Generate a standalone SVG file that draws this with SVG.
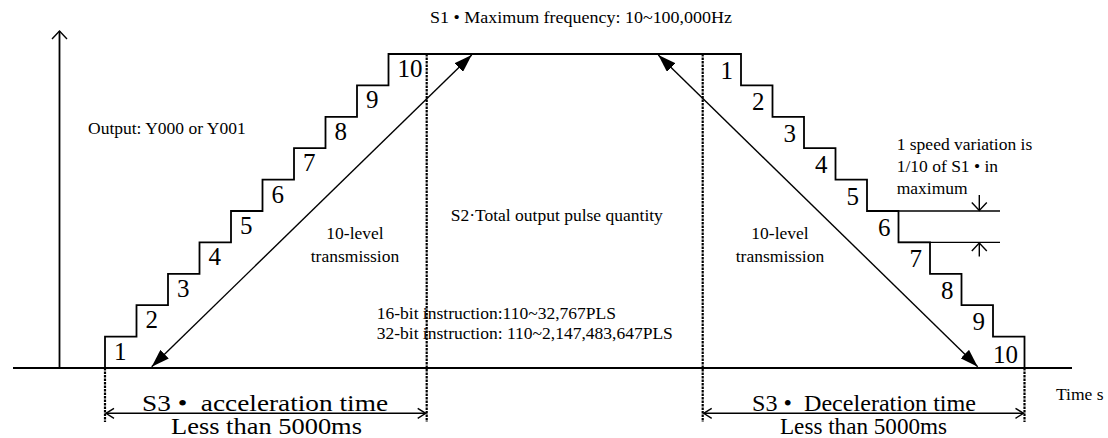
<svg xmlns="http://www.w3.org/2000/svg" width="1108" height="438" viewBox="0 0 1108 438">
<style>
.ln{fill:none;stroke:#000;stroke-width:1.8}
.thin{fill:none;stroke:#000;stroke-width:1.4}
.dash{fill:none;stroke:#000;stroke-width:2.2;stroke-dasharray:2.5 1}
.t{font-family:"Liberation Serif","Times New Roman",serif;font-size:17.5px;fill:#000}
.n{font-family:"Liberation Serif","Times New Roman",serif;font-size:25px;fill:#000}
.b{font-family:"Liberation Serif","Times New Roman",serif;font-size:23px;fill:#000}
</style>
<defs>
<marker id="fa" viewBox="0 0 18 12" refX="18" refY="6" markerWidth="18" markerHeight="12" markerUnits="userSpaceOnUse" orient="auto-start-reverse">
<path d="M0,0 L18,6 L0,12 z" fill="#000"/>
</marker>
<marker id="ch" viewBox="-1 -1 10 12" refX="8" refY="5" markerWidth="10" markerHeight="12" markerUnits="userSpaceOnUse" orient="auto-start-reverse" overflow="visible">
<path d="M0,0 L8,5 L0,10" fill="none" stroke="#000" stroke-width="1.4"/>
</marker>
<marker id="chl" viewBox="-1 -1 10 17" refX="8" refY="7.5" markerWidth="10" markerHeight="17" markerUnits="userSpaceOnUse" orient="auto-start-reverse" overflow="visible">
<path d="M0,0 L8,7.5 L0,15" fill="none" stroke="#000" stroke-width="1.4"/>
</marker>
</defs>

<g id="axes">
<line class="ln" x1="59.5" y1="368" x2="59.5" y2="31" marker-end="url(#chl)"/>
<line class="ln" x1="13" y1="368" x2="1072" y2="368"/>
</g>

<g id="profile">
<path class="ln" d="M105,368 V336.6 H136.5 V305.2 H168 V273.8 H199.5 V242.4 H231 V211 H262.5 V179.6 H294 V148.2 H325.5 V116.8 H357 V85.4 H388.5 V54 H741 V85.4 H772.5 V116.8 H804 V148.2 H835.5 V179.6 H867 V211 H898.5 V242.4 H930 V273.8 H961.5 V305.2 H993 V336.6 H1024.5 V368"/>
</g>

<g id="guides">
<line class="dash" x1="105" y1="368" x2="105" y2="422"/>
<line class="dash" x1="426.7" y1="54" x2="426.7" y2="422"/>
<line class="dash" x1="702.7" y1="54" x2="702.7" y2="422"/>
<line class="dash" x1="1024.5" y1="368" x2="1024.5" y2="422"/>
</g>

<g id="connectors">
<line class="thin" x1="151.7" y1="366.7" x2="471.7" y2="55" marker-start="url(#fa)" marker-end="url(#fa)"/>
<line class="thin" x1="658.3" y1="55" x2="977.7" y2="366.7" marker-start="url(#fa)" marker-end="url(#fa)"/>
<line class="thin" x1="106" y1="413.3" x2="425.7" y2="413.3" marker-start="url(#ch)" marker-end="url(#ch)"/>
<line class="thin" x1="703.7" y1="413.3" x2="1023.5" y2="413.3" marker-start="url(#ch)" marker-end="url(#ch)"/>
<line class="thin" x1="867" y1="211" x2="1000" y2="211"/>
<line class="thin" x1="898.5" y1="242.4" x2="1000" y2="242.4"/>
<line class="thin" x1="979.3" y1="195" x2="979.3" y2="210.5" marker-end="url(#chl)"/>
<line class="thin" x1="979.3" y1="256.5" x2="979.3" y2="243" marker-end="url(#chl)"/>
</g>

<g id="steps-up">
<text class="n" x="114" y="359.6">1</text>
<text class="n" x="145.5" y="328.2">2</text>
<text class="n" x="177" y="296.8">3</text>
<text class="n" x="208.5" y="265.4">4</text>
<text class="n" x="240" y="234">5</text>
<text class="n" x="271.5" y="202.6">6</text>
<text class="n" x="303" y="171.2">7</text>
<text class="n" x="334.5" y="139.8">8</text>
<text class="n" x="366" y="108.4">9</text>
<text class="n" x="397.5" y="77">10</text>
</g>

<g id="steps-down" text-anchor="end">
<text class="n" x="733" y="79">1</text>
<text class="n" x="764.5" y="110.4">2</text>
<text class="n" x="796" y="141.8">3</text>
<text class="n" x="827.5" y="173.2">4</text>
<text class="n" x="859" y="204.6">5</text>
<text class="n" x="890.5" y="236">6</text>
<text class="n" x="922" y="267.4">7</text>
<text class="n" x="953.5" y="298.8">8</text>
<text class="n" x="985" y="330.2">9</text>
<text class="n" x="1018" y="362.6">10</text>
</g>

<g id="labels">
<text class="t" x="430" y="23" textLength="302" lengthAdjust="spacingAndGlyphs">S1 • Maximum frequency: 10~100,000Hz</text>
<text class="t" x="88" y="134">Output: Y000 or Y001</text>
<text class="t" x="355" y="239.3" text-anchor="middle">10-level</text>
<text class="t" x="355" y="261.7" text-anchor="middle">transmission</text>
<text class="t" x="780" y="239.3" text-anchor="middle">10-level</text>
<text class="t" x="780" y="261.7" text-anchor="middle">transmission</text>
<text class="t" x="450.7" y="220.7">S2·Total output pulse quantity</text>
<text class="t" x="376.7" y="319">16-bit instruction:110~32,767PLS</text>
<text class="t" x="376.7" y="339">32-bit instruction: 110~2,147,483,647PLS</text>
<text class="t" x="896.7" y="150">1 speed variation is</text>
<text class="t" x="896.7" y="172.3">1/10 of S1 • in</text>
<text class="t" x="896.7" y="194.3">maximum</text>
<text class="t" x="1056" y="400">Time s</text>
<text class="b" x="142" y="411" xml:space="preserve" textLength="246" lengthAdjust="spacingAndGlyphs">S3 •  acceleration time</text>
<text class="b" x="171" y="433.5" textLength="191" lengthAdjust="spacingAndGlyphs">Less than 5000ms</text>
<text class="b" x="752" y="411" xml:space="preserve" textLength="224" lengthAdjust="spacingAndGlyphs">S3 •  Deceleration time</text>
<text class="b" x="780" y="433.5" textLength="167" lengthAdjust="spacingAndGlyphs">Less than 5000ms</text>
</g>
</svg>
